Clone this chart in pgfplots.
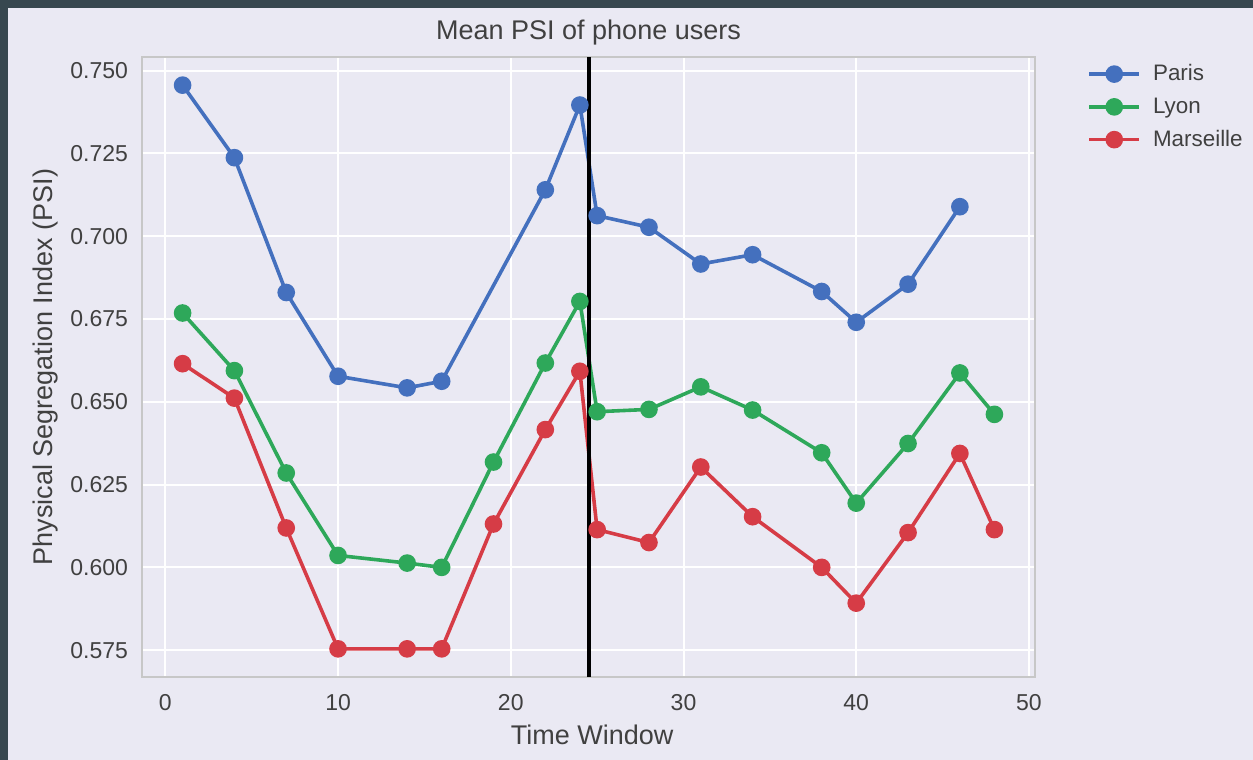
\documentclass[border=0pt]{standalone}
\usepackage{fontspec}
\setmainfont{Liberation Sans}
\usepackage{pgfplots}
\pgfplotsset{compat=1.18}

\definecolor{bgpanel}{HTML}{EAE9F3}
\definecolor{darkframe}{HTML}{37474F}
\definecolor{pblue}{HTML}{4470BE}
\definecolor{lgreen}{HTML}{2EA85A}
\definecolor{mred}{HTML}{D63C46}
\definecolor{txt}{HTML}{404040}

\begin{document}
\begin{tikzpicture}
\useasboundingbox (0,0) rectangle (626.5bp,380bp);
\fill[bgpanel] (0,0) rectangle (626.5bp,380bp);
\fill[darkframe] (0,376bp) rectangle (626.5bp,380bp);
\fill[darkframe] (0,0) rectangle (4bp,380bp);
\begin{axis}[
    at={(71bp,41.5bp)}, anchor=south west,
    scale only axis, width=446.5bp, height=310bp,
    xmin=-1.35, xmax=50.35, ymin=0.5669, ymax=0.7541,
    xtick={0,10,...,50},
    ytick={0.575,0.600,0.625,0.650,0.675,0.700,0.725,0.750},
    /pgf/number format/assume math mode=true,
    tick label style={font=\fontsize{11.5bp}{13bp}\selectfont, text=txt},
    yticklabel style={/pgf/number format/fixed, /pgf/number format/fixed zerofill,
        /pgf/number format/precision=3, xshift=-3.5bp},
    xticklabel style={yshift=-5bp},
    major tick length=0pt,
    axis line style={draw=black!22, line width=0.6bp},
    axis background/.style={fill=bgpanel},
    grid=major,
    major grid style={white, line width=1bp},
    title={Mean PSI of phone users},
    every axis title/.style={at={(axis description cs:0.5,1.0387)}, anchor=center,
        font=\fontsize{13.5bp}{16bp}\selectfont, text=txt},
    xlabel={Time Window},
    ylabel={Physical Segregation Index (PSI)},
    every axis x label/.style={at={(axis description cs:0.504,-0.0935)}, anchor=center,
        font=\fontsize{13.5bp}{16bp}\selectfont, text=txt},
    every axis y label/.style={at={(axis description cs:-0.1086,0.5)}, anchor=center, rotate=90,
        font=\fontsize{13.5bp}{16bp}\selectfont, text=txt},
    legend style={at={(axis description cs:1.0583,0.995)}, anchor=north west,
        draw=none, fill=none, inner sep=0pt, row sep=3bp,
        font=\fontsize{11.2bp}{13bp}\selectfont, text=txt},
    legend cell align=left,
    legend image code/.code={\draw[#1, mark repeat=2, mark phase=2]
        plot coordinates {(0bp,0bp) (12.5bp,0bp) (25bp,0bp)};
        \path (29bp,0bp);},
    every axis plot/.append style={line width=1.8bp, mark=*, mark size=3.5bp, mark options={solid}},
]
\addplot[pblue] coordinates {
    (1,0.7456) (4,0.7237) (7,0.6830) (10,0.6577) (14,0.6542) (16,0.6562)
    (22,0.7140) (24,0.7396) (25,0.7062) (28,0.7027) (31,0.6916) (34,0.6944)
    (38,0.6833) (40,0.6740) (43,0.6855) (46,0.7089)};
\addplot[lgreen] coordinates {
    (1,0.6768) (4,0.6594) (7,0.6285) (10,0.6036) (14,0.6013) (16,0.6000)
    (19,0.6318) (22,0.6617) (24,0.6803) (25,0.6470) (28,0.6477) (31,0.6545)
    (34,0.6475) (38,0.6346) (40,0.6194) (43,0.6374) (46,0.6587) (48,0.6462)};
\addplot[mred] coordinates {
    (1,0.6615) (4,0.6511) (7,0.6119) (10,0.5754) (14,0.5754) (16,0.5754)
    (19,0.6131) (22,0.6416) (24,0.6592) (25,0.6114) (28,0.6075) (31,0.6303)
    (34,0.6153) (38,0.6000) (40,0.5892) (43,0.6105) (46,0.6344) (48,0.6114)};
\legend{Paris, Lyon, Marseille}
\addplot[black, line width=2bp, mark=none, forget plot] coordinates {(24.5,0.5669) (24.5,0.7541)};
\end{axis}
\end{tikzpicture}
\end{document}
